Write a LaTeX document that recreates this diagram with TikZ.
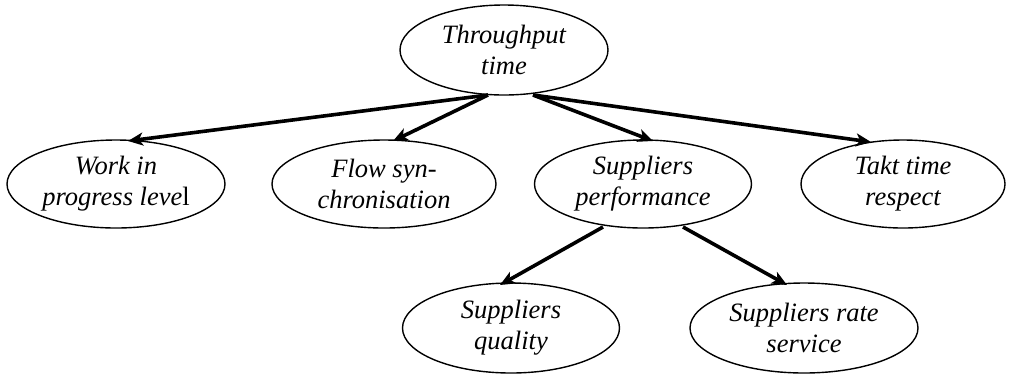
\documentclass[tikz,border=0pt]{standalone}
\usepackage{fontspec}
\setmainfont{LiberationSerif}[Extension=.ttf, UprightFont=*-Regular, ItalicFont=*-Italic, BoldFont=*-Bold]
\usetikzlibrary{shapes.geometric,arrows.meta}
\begin{document}
\begin{tikzpicture}[x=1pt,y=-1pt,
  oval/.style={draw, ellipse, line width=1.4pt, inner sep=0pt, align=center,
    font=\fontsize{26.5}{31}\selectfont\itshape, minimum height=90pt},
  arr/.style={line width=3.6pt, -{Stealth[length=15pt,width=13pt,inset=4pt]}}]
\useasboundingbox (0,0) rectangle (1011,376);
\node[oval, minimum width=208pt] (top) at (504,50) {Throughput\\time};
\node[oval, minimum width=218pt, minimum height=88pt] (work) at (116,184) {Work in\\progress leve\textup{l}};
\node[oval, minimum width=224pt, minimum height=88pt] (flow) at (384,184) {Flow syn-\\chronisation};
\node[oval, minimum width=217pt, minimum height=88pt] (perf) at (643,184) {Suppliers\\performance};
\node[oval, minimum width=204pt, minimum height=88pt] (takt) at (903,184) {Takt time\\respect};
\node[oval, minimum width=217pt] (qual) at (511,328) {Suppliers\\quality};
\node[oval, minimum width=228pt] (rate) at (804,328) {Suppliers rate\\service};
\coordinate (tl) at (488,95);
\coordinate (tr) at (533,95);
\coordinate (pl) at (603,227);
\coordinate (pr) at (683,227);
\coordinate (wt) at (128,141);
\coordinate (ft) at (393,141);
\coordinate (st) at (653,141);
\coordinate (kt) at (871,142);
\coordinate (qt) at (500,285);
\coordinate (rt) at (787,285);
\draw[arr] (tl) -- (wt);
\draw[arr] (tl) -- (ft);
\draw[arr] (tr) -- (st);
\draw[arr] (tr) -- (kt);
\draw[arr] (pl) -- (qt);
\draw[arr] (pr) -- (rt);
\end{tikzpicture}
\end{document}
